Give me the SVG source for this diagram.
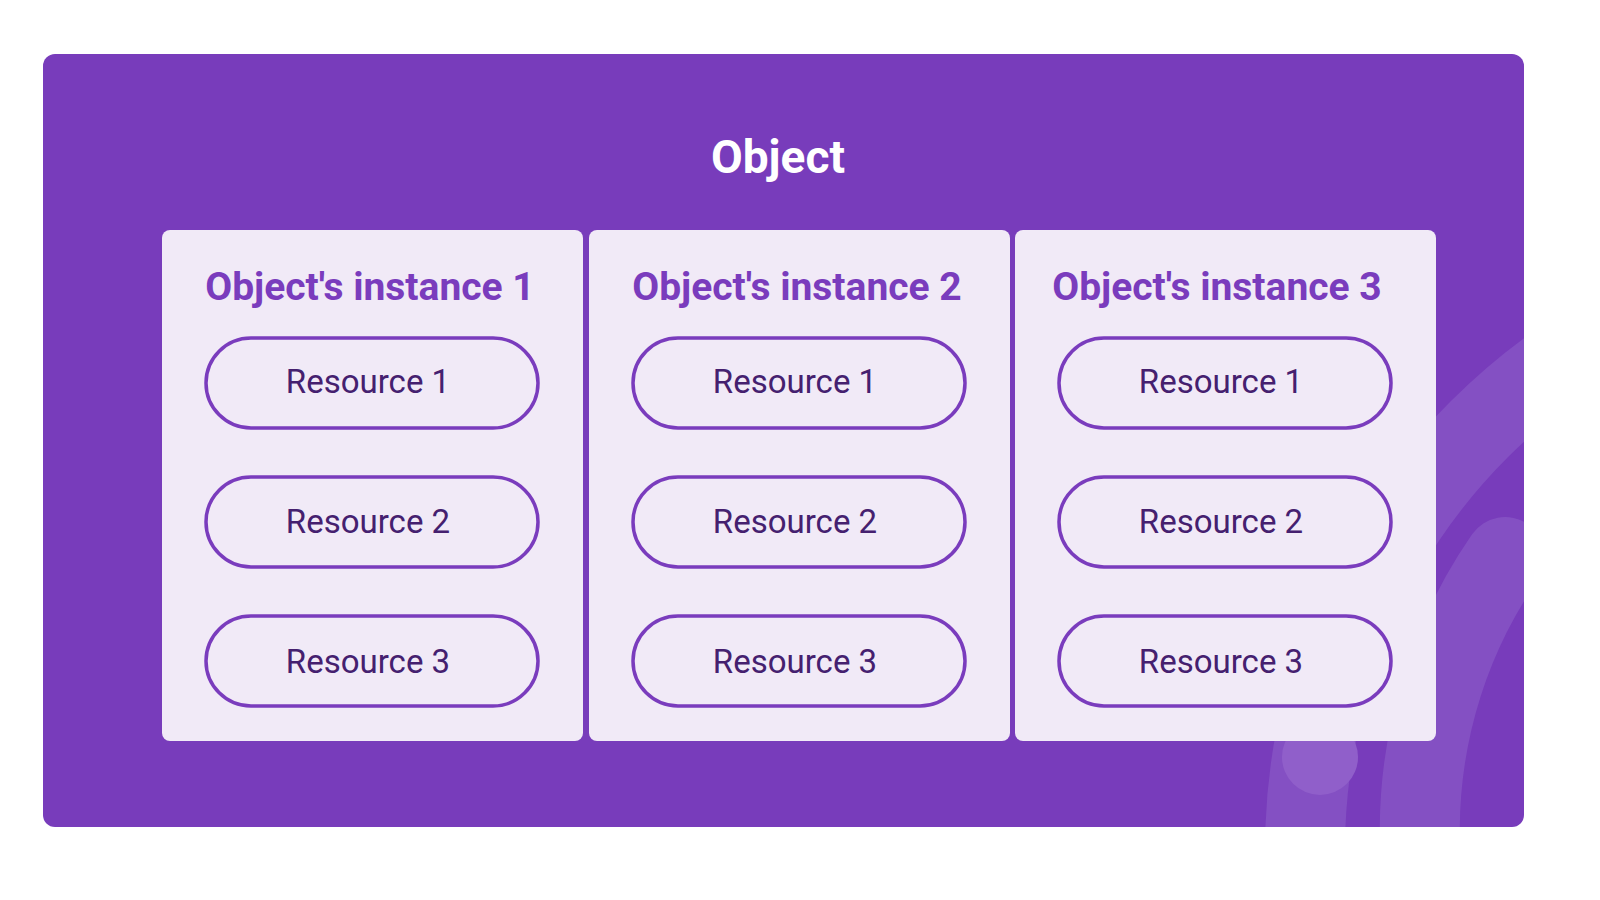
<svg xmlns="http://www.w3.org/2000/svg" width="1600" height="900" viewBox="0 0 1600 900">
<style>
.panel{fill:#f1eaf7}
.pill{fill:#f1eaf7;stroke:#7a3cbd;stroke-width:3.5}
.h{font-family:Roboto,"Liberation Sans",sans-serif;font-weight:bold;font-size:39px;fill:#7a3cbd;text-anchor:middle}
.r{font-family:Roboto,"Liberation Sans",sans-serif;font-size:33px;fill:#45206f;text-anchor:middle}
</style>
<defs><clipPath id="c"><rect x="43" y="54" width="1481" height="773" rx="12"/></clipPath></defs>
<rect x="43" y="54" width="1481" height="773" rx="12" fill="#783cbb"/>
<g clip-path="url(#c)" fill="none" stroke="#8450c3">
<circle cx="1900" cy="850" r="595" stroke-width="80"/>
<path d="M1425,900 A480,480 0 0 1 1505,557" stroke-width="80" stroke-linecap="round"/>
<circle cx="1320" cy="757" r="38" fill="#905fca" stroke="none"/>
</g>
<text x="778" y="173" font-family="Roboto,'Liberation Sans',sans-serif" font-weight="bold" font-size="46" fill="#fff" text-anchor="middle">Object</text>
<g id="inst1"><rect class="panel" x="162" y="230" width="421" height="511" rx="8"/>
<text class="h" x="370" y="300">Object's instance 1</text></g>
<g id="inst2"><rect class="panel" x="589" y="230" width="421" height="511" rx="8"/>
<text class="h" x="797" y="300">Object's instance 2</text></g>
<g id="inst3"><rect class="panel" x="1015" y="230" width="421" height="511" rx="8"/>
<text class="h" x="1217" y="300">Object's instance 3</text></g>
<g id="i1r1"><rect class="pill" x="206" y="338" width="332" height="90" rx="45"/><text class="r" x="368" y="393">Resource 1</text></g>
<g id="i1r2"><rect class="pill" x="206" y="477" width="332" height="90" rx="45"/><text class="r" x="368" y="533">Resource 2</text></g>
<g id="i1r3"><rect class="pill" x="206" y="616" width="332" height="90" rx="45"/><text class="r" x="368" y="673">Resource 3</text></g>
<g id="i2r1"><rect class="pill" x="633" y="338" width="332" height="90" rx="45"/><text class="r" x="795" y="393">Resource 1</text></g>
<g id="i2r2"><rect class="pill" x="633" y="477" width="332" height="90" rx="45"/><text class="r" x="795" y="533">Resource 2</text></g>
<g id="i2r3"><rect class="pill" x="633" y="616" width="332" height="90" rx="45"/><text class="r" x="795" y="673">Resource 3</text></g>
<g id="i3r1"><rect class="pill" x="1059" y="338" width="332" height="90" rx="45"/><text class="r" x="1221" y="393">Resource 1</text></g>
<g id="i3r2"><rect class="pill" x="1059" y="477" width="332" height="90" rx="45"/><text class="r" x="1221" y="533">Resource 2</text></g>
<g id="i3r3"><rect class="pill" x="1059" y="616" width="332" height="90" rx="45"/><text class="r" x="1221" y="673">Resource 3</text></g>
<g id="connectors"/>
</svg>
